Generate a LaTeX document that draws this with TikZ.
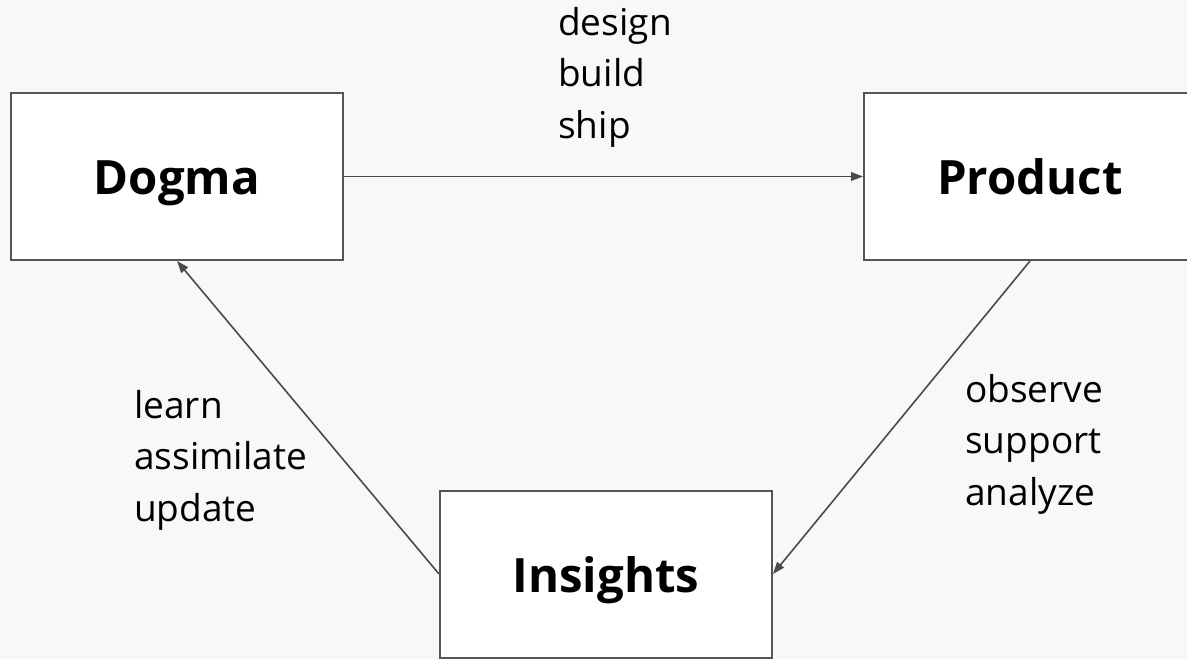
\documentclass[tikz,border=0pt]{standalone}
\usepackage{fontspec}
\setmainfont{Open Sans}
\usetikzlibrary{arrows.meta}
\definecolor{bgc}{HTML}{F8F8F8}
\definecolor{linec}{HTML}{4A4A4A}
\definecolor{boxline}{HTML}{555555}
\tikzset{
  stagebox/.style={draw=boxline, line width=1.5pt, fill=white, minimum width=249pt, minimum height=125.25pt, inner sep=0pt, text height=27pt, text depth=0pt, font=\fontsize{35.5}{42}\selectfont\bfseries},
  flow/.style={draw=linec, line width=1.2pt, -{Triangle[length=9pt,width=6.5pt]}},
  verbs/.style={anchor=north west, inner sep=0pt, align=left, font=\fontsize{27.75}{38.6}\selectfont}
}
\begin{document}
\begin{tikzpicture}[x=0.75pt,y=-0.75pt]
\useasboundingbox (0,0) rectangle (1187,659);
\fill[bgc] (0,0) rectangle (1187,659);
\clip (0,0) rectangle (1187,659);
\node[stagebox] (dogma) at (177,176.5) {Dogma};
\node[stagebox] (product) at (1030,176.5) {Product};
\node[stagebox] (insights) at (606,574) {Insights};
\draw[flow] (dogma.east) -- (product.west);
\draw[flow] (product.south) -- (insights.east);
\draw[flow] (insights.west) -- (dogma.south);
\node[verbs] (v1) at (558,7) {design\\build\\ship};
\node[verbs] (v2) at (965,374) {observe\\support\\analyze};
\node[verbs] (v3) at (134,390) {learn\\assimilate\\update};
\end{tikzpicture}
\end{document}
